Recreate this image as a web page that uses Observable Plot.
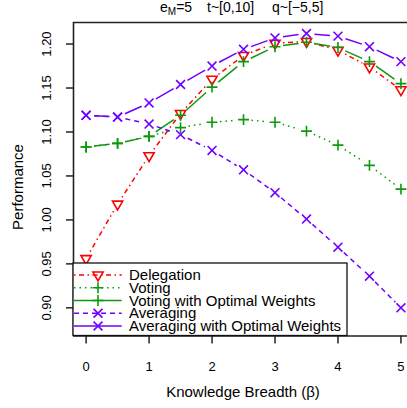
<!DOCTYPE html>
<html><head><meta charset="utf-8">
<script src="https://cdn.jsdelivr.net/npm/d3@7"></script>
<script src="https://cdn.jsdelivr.net/npm/@observablehq/plot@0.6"></script>
<style>body{margin:0;background:#fff} svg{display:block}</style>
</head><body><div id="chart"></div>
<script>
// ---- data ----
const beta = [0, 0.5, 1, 1.5, 2, 2.5, 3, 3.5, 4, 4.5, 5];
const delegation   = [0.956, 1.018, 1.073, 1.121, 1.160, 1.187, 1.201, 1.203, 1.193, 1.174, 1.148];
const voting       = [1.083, 1.087, 1.095, 1.105, 1.111, 1.114, 1.111, 1.101, 1.085, 1.062, 1.035];
const votingOpt    = [1.083, 1.087, 1.095, 1.119, 1.151, 1.180, 1.197, 1.202, 1.196, 1.180, 1.155];
const averaging    = [1.119, 1.117, 1.109, 1.097, 1.079, 1.057, 1.031, 1.001, 0.969, 0.936, 0.900];
const averagingOpt = [1.119, 1.117, 1.133, 1.154, 1.175, 1.194, 1.207, 1.212, 1.209, 1.197, 1.180];
const seriesNames = ["Delegation", "Voting", "Voting with Optimal Weights", "Averaging", "Averaging with Optimal Weights"];
const seriesValues = [delegation, voting, votingOpt, averaging, averagingOpt];
const xTicks = [0, 1, 2, 3, 4, 5];
const yTicks = [0.90, 0.95, 1.00, 1.05, 1.10, 1.15, 1.20];
const xLabel = "Knowledge Breadth (β)";
const yLabel = "Performance";
const titleParts = ["e", "M", "=5", "t~[0,10]", "q~[−5,5]"];

// ---- styles ----
const RED = "#ff0000", GREEN = "#0d990d", PURPLE = "#7000ff";
const styles = {
  "Delegation": {color: RED, dash: "1.5,3.5,5,3.5", symbol: "triangle", r: 3.8, rotate: 180},
  "Voting": {color: GREEN, dash: "1.5,4", symbol: "plus", r: 3.6, rotate: 0},
  "Voting with Optimal Weights": {color: GREEN, dash: null, symbol: "plus", r: 3.6, rotate: 0},
  "Averaging": {color: PURPLE, dash: "5,4", symbol: "times", r: 4.1, rotate: 0},
  "Averaging with Optimal Weights": {color: PURPLE, dash: null, symbol: "times", r: 4.1, rotate: 0}
};

// ---- tables ----
const rows = seriesNames.flatMap((name, s) => beta.map((b, i) => ({name, beta: b, value: seriesValues[s][i]})));
const segs = seriesNames.flatMap((name, s) => beta.slice(1).map((b, i) => ({
  name, x1: beta[i], y1: seriesValues[s][i], x2: b, y2: seriesValues[s][i + 1]
})));

const seriesMarks = seriesNames.flatMap(name => {
  const st = styles[name];
  return [
    Plot.arrow(segs.filter(d => d.name === name), {
      x1: "x1", y1: "y1", x2: "x2", y2: "y2",
      stroke: st.color, strokeWidth: 1.5, strokeDasharray: st.dash,
      headLength: 0, inset: 8, strokeLinecap: "butt"
    }),
    Plot.dot(rows.filter(d => d.name === name), {
      x: "beta", y: "value", symbol: st.symbol, r: st.r, rotate: st.rotate,
      stroke: st.color, fill: "none", strokeWidth: 1.6
    })
  ];
});

const xDomain = [-0.2, 5.104];
const yDomain = [0.868, 1.2245];

const plot = Plot.plot({
  width: 407, height: 408,
  marginLeft: 73, marginRight: 0, marginTop: 22, marginBottom: 72.5,
  x: {domain: xDomain, label: null},
  y: {domain: yDomain, label: null},
  style: {fontFamily: "'Liberation Sans', Arial, sans-serif", fontSize: "13px", background: "#fff", color: "#000"},
  marks: [
    Plot.axisX({ticks: xTicks, tickSize: 8, tickPadding: 17.8, label: null, tickFormat: d => String(d), strokeWidth: 1.3}),
    Plot.axisY({ticks: yTicks, tickSize: 7, tickPadding: 16, tickRotate: -90, label: null, tickFormat: d3.format(".2f"), strokeWidth: 1.3}),
    ...seriesMarks,
    Plot.ruleY([yDomain[1]], {stroke: "#222", strokeWidth: 1.6}),
    Plot.ruleY([yDomain[0]], {stroke: "#222", strokeWidth: 1.3}),
    Plot.ruleX([xDomain[0]], {stroke: "#222", strokeWidth: 1.6})
  ]
});

document.getElementById("chart").appendChild(plot);
const svg = d3.select(plot);
const xs = plot.scale("x"), ys = plot.scale("y");
const frameLeft = xs.range[0], frameBottom = ys.range[0];
const FONT = "'Liberation Sans', Arial, sans-serif";

// title
const tt = svg.append("text").attr("y", 11.5).attr("font-family", FONT).attr("font-size", 14)
  .attr("fill", "#000").attr("text-anchor", "start");
tt.append("tspan").attr("x", 160).text(titleParts[0]);
tt.append("tspan").attr("font-size", 10).attr("dy", 3).text(titleParts[1]);
tt.append("tspan").attr("dy", -3).text(titleParts[2]);
tt.append("tspan").attr("x", 207).text(titleParts[3]);
tt.append("tspan").attr("x", 272).text(titleParts[4]);

// axis labels
svg.append("text").attr("x", (frameLeft + 413) / 2).attr("y", 396.5).attr("text-anchor", "middle")
  .attr("font-family", FONT).attr("font-size", 15).text(xLabel);
svg.append("text").attr("transform", `translate(23,187) rotate(-90)`).attr("text-anchor", "middle")
  .attr("font-family", FONT).attr("font-size", 15).text(yLabel);

// legend
const lg = svg.append("g");
const boxTop = 263, boxRight = 347;
lg.append("rect").attr("x", frameLeft).attr("y", boxTop).attr("width", boxRight - frameLeft).attr("height", frameBottom - boxTop)
  .attr("fill", "#fff").attr("stroke", "#111").attr("stroke-width", 1.3);
const symMap = {triangle: d3.symbolTriangle, plus: d3.symbolPlus, times: d3.symbolTimes};
seriesNames.forEach((name, i) => {
  const st = styles[name];
  const cy = 275 + i * 12.75;
  lg.append("line").attr("x1", frameLeft + 1).attr("x2", 121.7).attr("y1", cy).attr("y2", cy)
    .attr("stroke", st.color).attr("stroke-width", 1.5).attr("stroke-dasharray", st.dash);
  lg.append("path").attr("d", d3.symbol(symMap[st.symbol], Math.PI * st.r * st.r)())
    .attr("transform", `translate(98,${cy}) rotate(${st.rotate})`)
    .attr("fill", "none").attr("stroke", st.color).attr("stroke-width", 1.6);
  lg.append("text").attr("x", 129).attr("y", cy + 5.2).attr("font-family", FONT).attr("font-size", 15)
    .attr("text-anchor", "start").attr("fill", "#000").text(name);
});
</script></body></html>
